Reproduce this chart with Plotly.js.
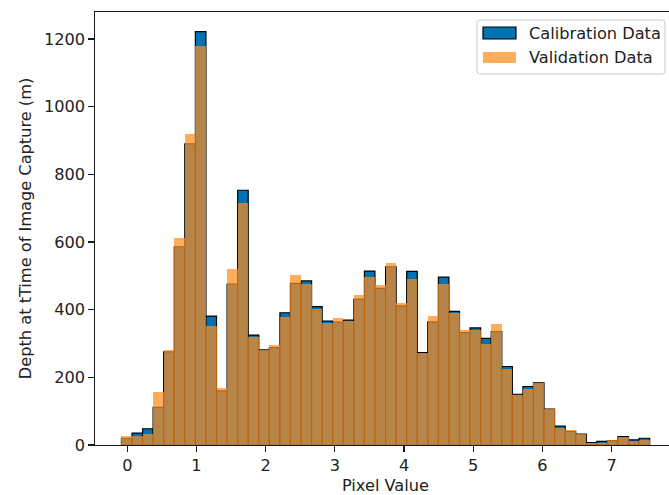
<!DOCTYPE html>
<html>
<head>
<meta charset="utf-8">
<script src="https://cdn.plot.ly/plotly-3.0.1.min.js"></script>
<style>
html, body { margin: 0; padding: 0; overflow: hidden; background: #fff; }
#chart { width: 680px; height: 495px; }
</style>
</head>
<body>
<div id="chart"></div>
<script>
// Histogram bin centers (Pixel Value)
const binCenters = [-0.009, 0.144, 0.297, 0.449, 0.602, 0.755, 0.907, 1.060, 1.213, 1.366,
  1.518, 1.671, 1.824, 1.976, 2.129, 2.282, 2.434, 2.587, 2.740, 2.893,
  3.045, 3.198, 3.351, 3.503, 3.656, 3.809, 3.961, 4.114, 4.267, 4.419,
  4.572, 4.725, 4.878, 5.030, 5.183, 5.336, 5.488, 5.641, 5.794, 5.946,
  6.099, 6.252, 6.404, 6.557, 6.710, 6.862, 7.015, 7.168, 7.320, 7.473];

// Counts per bin
const calibrationCounts = [20, 35, 48, 111, 275, 586, 890, 1222, 381, 160,
  476, 753, 325, 281, 288, 391, 478, 485, 409, 366,
  363, 369, 431, 514, 463, 527, 411, 513, 273, 364,
  496, 395, 332, 346, 315, 335, 232, 150, 173, 184,
  106, 56, 40, 32, 7, 11, 13, 25, 15, 20];

const validationCounts = [27, 28, 32, 156, 282, 611, 920, 1179, 352, 169,
  520, 714, 320, 280, 295, 379, 502, 475, 401, 360,
  374, 367, 443, 497, 474, 537, 419, 490, 273, 381,
  476, 391, 339, 340, 299, 357, 225, 148, 167, 184,
  106, 50, 44, 32, 7, 7, 15, 25, 13, 15];

const seriesNames = ["Calibration Data", "Validation Data"];
const xTicks = [0, 1, 2, 3, 4, 5, 6, 7];
const yTicks = [0, 200, 400, 600, 800, 1000, 1200];

const binWidth = 0.1527;
const calColor = "#0173B2";
const valColor = "rgba(255,140,30,0.72)";
const font = { family: "DejaVu Sans, sans-serif", size: 16.2, color: "#222" };

const traces = [
  {
    type: "bar", name: seriesNames[0], x: binCenters, y: calibrationCounts,
    width: binWidth, showlegend: false,
    marker: { color: calColor, line: { color: "#000", width: 1.2 } }
  },
  {
    type: "bar", name: seriesNames[1], x: binCenters, y: validationCounts,
    width: binWidth, showlegend: false,
    marker: { color: valColor, line: { width: 0 } }
  }
];

// Legend drawn in matplotlib style (wide patches, rounded frame)
function roundedRect(x0, x1, y0, y1, rx, ry) {
  return "M" + (x0 + rx) + "," + y0 + " L" + (x1 - rx) + "," + y0 +
    " Q" + x1 + "," + y0 + " " + x1 + "," + (y0 + ry) +
    " L" + x1 + "," + (y1 - ry) + " Q" + x1 + "," + y1 + " " + (x1 - rx) + "," + y1 +
    " L" + (x0 + rx) + "," + y1 + " Q" + x0 + "," + y1 + " " + x0 + "," + (y1 - ry) +
    " L" + x0 + "," + (y0 + ry) + " Q" + x0 + "," + y0 + " " + (x0 + rx) + "," + y0 + " Z";
}
const shapes = [
  { type: "path", xref: "paper", yref: "paper",
    path: roundedRect(0.6575, 0.9810, 0.8568, 0.9815, 0.005, 0.007),
    fillcolor: "rgba(255,255,255,0.8)", line: { color: "#cccccc", width: 1 } },
  { type: "rect", xref: "paper", yref: "paper", x0: 0.6678, x1: 0.7246, y0: 0.9376, y1: 0.9654,
    fillcolor: calColor, line: { color: "#000", width: 1.2 } },
  { type: "rect", xref: "paper", yref: "paper", x0: 0.6678, x1: 0.7246, y0: 0.8822, y1: 0.9076,
    fillcolor: valColor, line: { width: 0 } }
];
const annotations = [
  { xref: "paper", yref: "paper", x: 0.7436, y: 0.9515, xanchor: "left", yanchor: "middle",
    text: seriesNames[0], showarrow: false, font: font },
  { xref: "paper", yref: "paper", x: 0.7436, y: 0.896, xanchor: "left", yanchor: "middle",
    text: seriesNames[1], showarrow: false, font: font }
];

const layout = {
  width: 680, height: 495,
  margin: { l: 95, r: 4, t: 12, b: 50 },
  paper_bgcolor: "#fff", plot_bgcolor: "#fff",
  barmode: "overlay", bargap: 0,
  font: font,
  showlegend: false,
  shapes: shapes,
  annotations: annotations,
  xaxis: {
    range: [-0.467, 7.93], tickvals: xTicks, ticktext: xTicks.map(String),
    showgrid: false, zeroline: false,
    showline: true, linecolor: "#1a1a1a", linewidth: 1.2, mirror: true,
    ticks: "outside", ticklen: 5.4, tickwidth: 1.2, tickcolor: "#1a1a1a",
    tickfont: font,
    title: { text: "Pixel Value", font: font, standoff: 7 }
  },
  yaxis: {
    range: [0, 1280], tickvals: yTicks, ticktext: yTicks.map(String),
    showgrid: false, zeroline: false,
    showline: true, linecolor: "#1a1a1a", linewidth: 1.2, mirror: true,
    ticks: "outside", ticklen: 5.4, tickwidth: 1.2, tickcolor: "#1a1a1a",
    tickfont: font,
    title: { text: "Depth at tTime of Image Capture (m)", font: font, standoff: 8 }
  }
};

Plotly.newPlot("chart", traces, layout, { displayModeBar: false, staticPlot: true });
</script>
</body>
</html>
